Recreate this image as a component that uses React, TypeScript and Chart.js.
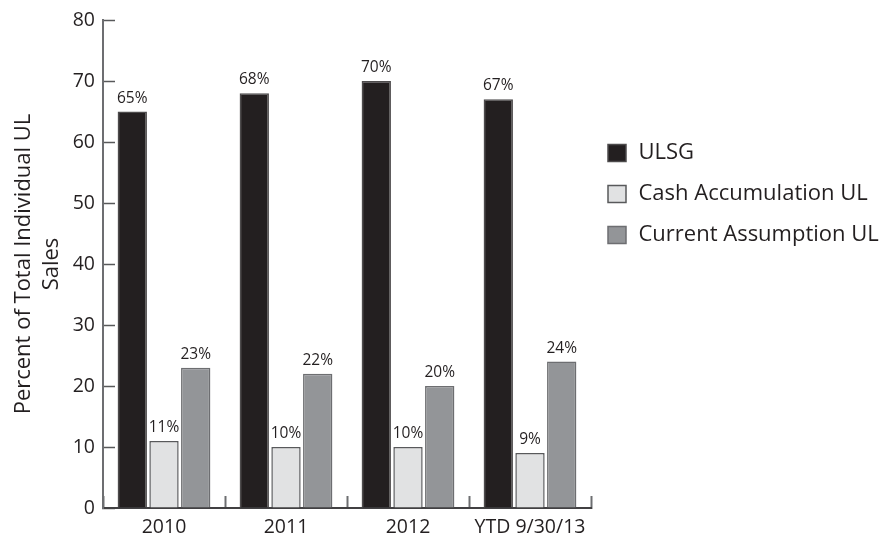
import React, { useEffect, useRef } from "react";
import { Chart, registerables } from "chart.js";

Chart.register(...registerables);

const categories = ["2010", "2011", "2012", "YTD 9/30/13"];
const ulsg = [65, 68, 70, 67];
const cashAccumulation = [11, 10, 10, 9];
const currentAssumption = [23, 22, 20, 24];
const seriesNames = ["ULSG", "Cash Accumulation UL", "Current Assumption UL"];
const yTitle = ["Percent of Total Individual UL", "Sales"];
const yMin = 0;
const yMax = 80;
const yStep = 10;

const TEXT = "#231f20";
const FONT = "'Open Sans'";

const valueLabels = {
  id: "valueLabels",
  afterDatasetsDraw(chart: any) {
    const ctx = chart.ctx;
    ctx.save();
    ctx.font = `15.5px ${FONT}`;
    ctx.fillStyle = TEXT;
    ctx.textAlign = "center";
    ctx.textBaseline = "alphabetic";
    chart.data.datasets.forEach((ds: any, di: number) => {
      const meta = chart.getDatasetMeta(di);
      meta.data.forEach((el: any, i: number) => {
        ctx.fillText(`${ds.data[i]}%`, el.x, el.y - 9);
      });
    });
    ctx.restore();
  },
};

// Legend drawn at the right side, using the datasets' labels and colours.
const sideLegend = {
  id: "sideLegend",
  afterDraw(chart: any) {
    const ctx = chart.ctx;
    const boxX = chart.chartArea.right + 17;
    const textX = boxX + 30.5;
    const firstY = 153;
    const step = 41;
    const boxW = 18;
    const boxH = 17;
    ctx.save();
    ctx.font = `22px ${FONT}`;
    ctx.textBaseline = "middle";
    ctx.textAlign = "left";
    chart.data.datasets.forEach((ds: any, i: number) => {
      const cy = firstY + i * step;
      ctx.fillStyle = ds.backgroundColor;
      ctx.fillRect(boxX, cy - boxH / 2, boxW, boxH);
      ctx.strokeStyle = ds.borderColor;
      ctx.lineWidth = 1.5;
      ctx.strokeRect(boxX, cy - boxH / 2, boxW, boxH);
      ctx.fillStyle = TEXT;
      ctx.fillText(ds.label, textX, cy);
    });
    ctx.restore();
  },
};

export default function App() {
  const ref = useRef<HTMLCanvasElement | null>(null);
  useEffect(() => {
    document.body.style.margin = "0";
    Chart.defaults.font.family = FONT;
    Chart.defaults.color = TEXT;
    const chart = new Chart(ref.current as HTMLCanvasElement, {
      type: "bar",
      data: {
        labels: categories,
        datasets: [
          {
            label: seriesNames[0],
            data: ulsg,
            backgroundColor: "#231f20",
            borderColor: "#4d4b4c",
            borderWidth: 1.5,
          },
          {
            label: seriesNames[1],
            data: cashAccumulation,
            backgroundColor: "#e1e2e3",
            borderColor: "#58595b",
            borderWidth: 1.5,
          },
          {
            label: seriesNames[2],
            data: currentAssumption,
            backgroundColor: "#939598",
            borderColor: "#6d6e71",
            borderWidth: 1.5,
          },
        ],
      },
      options: {
        responsive: false,
        animation: false,
        datasets: {
          bar: { categoryPercentage: 0.78, barPercentage: 0.925 },
        },
        layout: { padding: { top: 20, left: 0, right: 300, bottom: 0 } },
        plugins: {
          tooltip: { enabled: false },
          legend: { display: false },
        },
        scales: {
          x: {
            z: 1,
            afterFit(scale: any) {
              scale.height = 28;
            },
            grid: {
              offset: true,
              drawOnChartArea: false,
              tickLength: -12,
              tickColor: "#6d6e71",
              tickWidth: 2,
            },
            border: { color: "#414042", width: 2 },
            ticks: { font: { size: 19.5, family: FONT }, color: TEXT, padding: 20 },
          },
          y: {
            min: yMin,
            max: yMax,
            afterFit(scale: any) {
              scale.width = 103;
              scale.paddingTop = 12;
              scale.paddingBottom = 12;
            },
            grid: {
              drawOnChartArea: false,
              tickLength: -12,
              tickColor: "#58595b",
              tickWidth: 1.5,
            },
            border: { color: "#6d6e71", width: 2 },
            ticks: {
              stepSize: yStep,
              font: { size: 19.5, family: FONT },
              color: TEXT,
              padding: 20,
            },
            title: {
              display: true,
              text: yTitle,
              color: TEXT,
              font: { size: 22, family: FONT, lineHeight: 1.273 },
              padding: { top: 9.5, bottom: 0 },
            },
          },
        },
      },
      plugins: [valueLabels, sideLegend],
    });
    return () => chart.destroy();
  }, []);
  return (
    <div style={{ width: 891, height: 536 }}>
      <canvas ref={ref} width={891} height={536} style={{ display: "block" }} />
    </div>
  );
}
